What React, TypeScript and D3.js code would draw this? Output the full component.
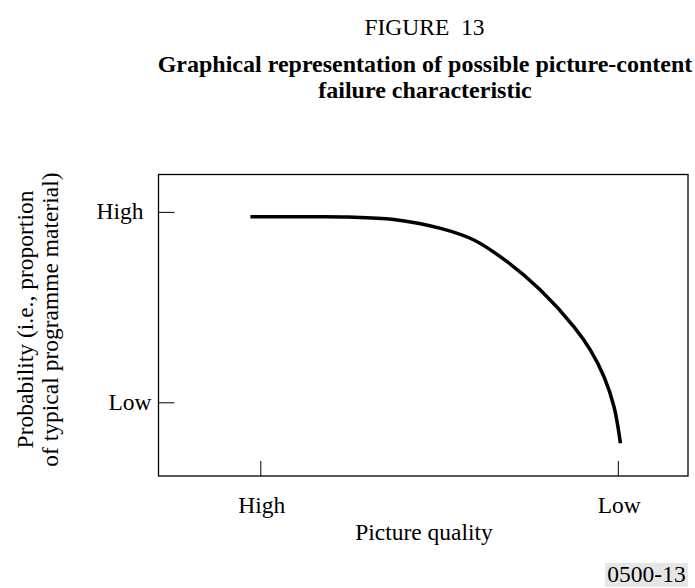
import React from "react";
import * as d3 from "d3";

// Abstract axes: quality 0 = High, 1 = Low ; probability 0 = Low, 1 = High
const xTickLabels = ["High", "Low"];
const xTickValues = [0, 1];
const yTickLabels = ["Low", "High"];
const yTickValues = [0, 1];
const curveQuality = [-0.029, 0.111, 0.242, 0.372, 0.503, 0.596, 0.689, 0.782, 0.876, 0.922, 0.96, 0.988, 1.006];
const curveProbability = [0.977, 0.977, 0.976, 0.963, 0.916, 0.855, 0.741, 0.592, 0.399, 0.277, 0.137, -0.021, -0.213];

const W = 695;
const H = 588;
const frame = { left: 158.5, top: 174.5, right: 688, bottom: 476 };
const FONT = "'Liberation Serif', 'Times New Roman', serif";
const FS = 23.5;
const yLabelGap = [7, 15]; // Low, High

export default function App() {
  const x = d3.scaleLinear().domain([0, 1]).range([260.8, 618.3]);
  const y = d3.scaleLinear().domain([0, 1]).range([402.8, 212.4]);
  const pts: [number, number][] = curveQuality.map((q, i) => [q, curveProbability[i]]);
  const line = d3
    .line<[number, number]>()
    .x((d) => x(d[0]))
    .y((d) => y(d[1]))
    .curve(d3.curveCatmullRom.alpha(0.5));

  return (
    <svg
      width={W}
      height={H}
      style={{ position: "absolute", left: 0, top: 0, background: "#fff" }}
      fontFamily={FONT}
    >
      <rect x={0} y={0} width={W} height={H} fill="#fff" />
      <text x={424.5} y={34.5} textAnchor="middle" fontSize={FS} fill="#000">
        FIGURE{"\u00a0\u00a0"}13
      </text>
      <text x={425} y={72} textAnchor="middle" fontSize={24} fontWeight="bold" fill="#000">
        Graphical representation of possible picture-content
      </text>
      <text x={425} y={98} textAnchor="middle" fontSize={24} fontWeight="bold" fill="#000">
        failure characteristic
      </text>

      <rect
        x={frame.left}
        y={frame.top}
        width={frame.right - frame.left}
        height={frame.bottom - frame.top}
        fill="none"
        stroke="#000"
        strokeWidth={1.3}
      />

      {yTickValues.map((v, i) => (
        <g key={"yt" + i}>
          <line x1={frame.left} x2={frame.left + 16} y1={y(v)} y2={y(v)} stroke="#000" strokeWidth={1} />
          <text x={frame.left - yLabelGap[i]} y={y(v) + 7} textAnchor="end" fontSize={FS} fill="#000">
            {yTickLabels[i]}
          </text>
        </g>
      ))}
      {xTickValues.map((v, i) => (
        <g key={"xt" + i}>
          <line x1={x(v)} x2={x(v)} y1={frame.bottom} y2={frame.bottom - 15} stroke="#000" strokeWidth={1} />
          <text x={x(v) + 1} y={512.5} textAnchor="middle" fontSize={FS} fill="#000">
            {xTickLabels[i]}
          </text>
        </g>
      ))}

      <path d={line(pts) || ""} fill="none" stroke="#000" strokeWidth={3.5} />

      <text x={424} y={540} textAnchor="middle" fontSize={FS} fill="#000">
        Picture quality
      </text>

      <g transform="translate(33,319.5) rotate(-90)">
        <text x={0} y={0} textAnchor="middle" fontSize={FS} fill="#000">
          Probability (i.e., proportion
        </text>
        <text x={0} y={24.5} textAnchor="middle" fontSize={FS} fill="#000">
          of typical programme material)
        </text>
      </g>

      <rect x={605} y={563} width={83} height={24} fill="#e6e6e6" />
      <text x={646.5} y={582} textAnchor="middle" fontSize={FS} fill="#000">
        0500-13
      </text>
    </svg>
  );
}
